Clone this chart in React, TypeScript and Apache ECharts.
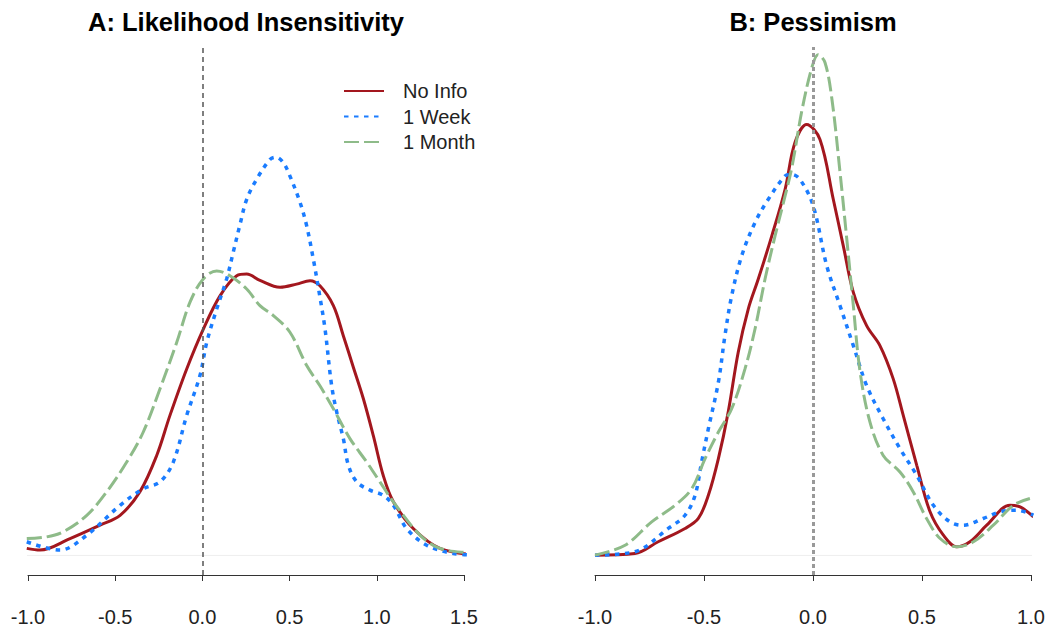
import React, { useEffect, useRef } from "react";
import * as echarts from "echarts";

// ---------- Data (density estimates) ----------
const seriesNames = ["No Info", "1 Week", "1 Month"];

// Panel A: Likelihood Insensitivity
const aNoInfo: [number, number][] = [
  [-1.007, 0.029], [-0.931, 0.022], [-0.759, 0.069], [-0.587, 0.124], [-0.472, 0.164],
  [-0.358, 0.261], [-0.262, 0.409], [-0.186, 0.573], [-0.09, 0.763], [0.006, 0.927],
  [0.101, 1.062], [0.197, 1.144], [0.254, 1.151], [0.33, 1.125], [0.445, 1.097],
  [0.54, 1.11], [0.617, 1.124], [0.674, 1.103], [0.751, 1.022], [0.808, 0.899],
  [0.865, 0.771], [0.923, 0.641], [0.98, 0.49], [1.037, 0.327], [1.095, 0.22],
  [1.209, 0.11], [1.362, 0.029], [1.592, 0.001],
];
const aWeek: [number, number][] = [
  [-1.007, 0.056], [-0.817, 0.022], [-0.663, 0.083], [-0.472, 0.205], [-0.339, 0.273],
  [-0.243, 0.301], [-0.167, 0.382], [-0.09, 0.573], [-0.014, 0.736], [0.025, 0.872],
  [0.082, 1.008], [0.139, 1.131], [0.177, 1.241], [0.216, 1.355], [0.254, 1.457],
  [0.311, 1.539], [0.388, 1.62], [0.422, 1.629], [0.464, 1.607], [0.502, 1.552],
  [0.56, 1.444], [0.598, 1.348], [0.636, 1.212], [0.674, 1.057], [0.703, 0.927],
  [0.741, 0.695], [0.77, 0.587], [0.808, 0.478], [0.837, 0.369], [0.885, 0.301],
  [0.961, 0.267], [1.037, 0.246], [1.095, 0.205], [1.171, 0.11], [1.286, 0.042],
  [1.439, 0.008], [1.592, 0.001],
];
const aMonth: [number, number][] = [
  [-1.007, 0.069], [-0.893, 0.076], [-0.798, 0.097], [-0.663, 0.164], [-0.549, 0.26],
  [-0.434, 0.382], [-0.339, 0.505], [-0.243, 0.682], [-0.147, 0.872], [-0.071, 1.036],
  [0.005, 1.131], [0.082, 1.164], [0.158, 1.144], [0.254, 1.09], [0.33, 1.022],
  [0.407, 0.981], [0.502, 0.913], [0.598, 0.777], [0.674, 0.694], [0.751, 0.6],
  [0.846, 0.478], [0.942, 0.382], [1.018, 0.301], [1.095, 0.219], [1.248, 0.083],
  [1.362, 0.029], [1.553, 0.008], [1.592, 0.004],
];

// Panel B: Pessimism
const bNoInfo: [number, number][] = [
  [-1.0, 0.003], [-0.817, 0.02], [-0.71, 0.14], [-0.587, 0.276], [-0.526, 0.378],
  [-0.48, 0.615], [-0.434, 0.99], [-0.389, 1.466], [-0.343, 2.079], [-0.297, 2.52],
  [-0.251, 2.827], [-0.189, 3.268], [-0.128, 3.745], [-0.083, 4.221], [-0.029, 4.408],
  [0.032, 4.255], [0.093, 3.643], [0.139, 3.166], [0.185, 2.691], [0.246, 2.35],
  [0.307, 2.146], [0.368, 1.806], [0.414, 1.432], [0.476, 0.922], [0.537, 0.446],
  [0.598, 0.207], [0.659, 0.089], [0.72, 0.14], [0.797, 0.309], [0.904, 0.513],
  [0.95, 0.497], [1.011, 0.395],
];
const bWeek: [number, number][] = [
  [-1.0, 0.003], [-0.817, 0.038], [-0.664, 0.276], [-0.587, 0.411], [-0.541, 0.615],
  [-0.511, 0.956], [-0.48, 1.296], [-0.434, 1.772], [-0.404, 2.248], [-0.373, 2.656],
  [-0.327, 3.064], [-0.266, 3.405], [-0.205, 3.643], [-0.128, 3.881], [-0.101, 3.898],
  [-0.06, 3.847], [0.001, 3.574], [0.063, 2.962], [0.124, 2.554], [0.185, 2.146],
  [0.246, 1.738], [0.322, 1.398], [0.399, 1.092], [0.476, 0.819], [0.552, 0.513],
  [0.628, 0.344], [0.689, 0.309], [0.781, 0.378], [0.858, 0.446], [0.934, 0.462],
  [1.011, 0.411],
];
const bMonth: [number, number][] = [
  [-1.0, 0.003], [-0.862, 0.105], [-0.74, 0.344], [-0.633, 0.513], [-0.556, 0.684],
  [-0.495, 0.99], [-0.434, 1.262], [-0.373, 1.5], [-0.312, 1.908], [-0.266, 2.316],
  [-0.22, 2.827], [-0.174, 3.268], [-0.128, 3.677], [-0.096, 3.98], [-0.05, 4.561],
  [-0.004, 5.0], [0.023, 5.122], [0.055, 5.041], [0.087, 4.663], [0.124, 3.918],
  [0.155, 3.235], [0.185, 2.554], [0.216, 1.878], [0.261, 1.367], [0.322, 1.023],
  [0.399, 0.854], [0.46, 0.65], [0.521, 0.378], [0.583, 0.173], [0.659, 0.089],
  [0.736, 0.14], [0.827, 0.309], [0.919, 0.513], [0.995, 0.582],
];

// zero lines spanning each plot region
const aZero: [number, number][] = [[-1.1, 0], [1.7, 0]];
const bZero: [number, number][] = [[-1.08, 0], [1.1, 0]];

const titles = ["A: Likelihood Insensitivity", "B: Pessimism"];

// ---------- Styles ----------
const RED = "#A3171E";
const BLUE = "#1A7CFF";
const GREEN = "#8EBB89";
const FONT = "Liberation Sans, Arial, Helvetica, sans-serif";

function curve(name: string, data: [number, number][], idx: number, color: string, style: any) {
  return {
    type: "line",
    name,
    data,
    xAxisIndex: idx,
    yAxisIndex: idx,
    showSymbol: false,
    symbol: "none",
    symbolSize: 0,
    smooth: 0.35,
    clip: false,
    color,
    itemStyle: { color, opacity: 0 },
    lineStyle: { color, ...style },
    z: 3,
  };
}

export default function App() {
  const ref = useRef<HTMLDivElement>(null);

  useEffect(() => {
    if (!ref.current) return;
    const chart = echarts.init(ref.current, undefined, { renderer: "svg" });

    const redStyle = { width: 3, type: "solid" };
    const blueStyle = { width: 3.5, type: [4.5, 5.5] };
    const greenStyle = { width: 3, type: [15, 5] };

    const xAxisCommon = {
      type: "value",
      interval: 0.5,
      splitLine: { show: false },
      axisLine: { show: true, onZero: false, lineStyle: { color: "#333", width: 1 } },
      axisTick: { show: true, length: 6, lineStyle: { color: "#333", width: 1 } },
      axisLabel: {
        color: "#222",
        fontSize: 20,
        fontFamily: FONT,
        margin: 32,
        formatter: (v: number) => v.toFixed(1),
      },
    };

    const zeroStyle = { color: "#eeeeee", width: 1, type: "solid" };

    const titleStyle = {
      fontSize: 25.5,
      fontWeight: "bold",
      fontFamily: FONT,
      fill: "#000",
      textAlign: "center",
      textVerticalAlign: "middle",
    };

    const option: any = {
      animation: false,
      backgroundColor: "#ffffff",
      grid: [
        { left: 28, width: 436, top: 47, height: 529 },
        { left: 595, width: 436, top: 47, height: 529 },
      ],
      xAxis: [
        { ...xAxisCommon, gridIndex: 0, min: -1, max: 1.5 },
        { ...xAxisCommon, gridIndex: 1, min: -1, max: 1 },
      ],
      yAxis: [
        { type: "value", gridIndex: 0, min: -0.08, max: 2.08, show: false },
        { type: "value", gridIndex: 1, min: -0.2, max: 5.2, show: false },
      ],
      legend: {
        data: seriesNames,
        orient: "vertical",
        left: 343,
        top: 81,
        itemWidth: 40,
        itemHeight: 14,
        itemGap: 5.5,
        padding: 0,
        itemStyle: { opacity: 0 },
        textStyle: { fontSize: 20, fontFamily: FONT, color: "#222", padding: [0, 0, 0, 14] },
      },
      graphic: [
        { type: "text", x: 246, y: 22, style: { ...titleStyle, text: titles[0] } },
        { type: "text", x: 813, y: 22, style: { ...titleStyle, text: titles[1] } },
      ],
      series: [
        {
          type: "line",
          name: "zeroA",
          data: aZero,
          xAxisIndex: 0,
          yAxisIndex: 0,
          symbol: "none",
          clip: false,
          lineStyle: zeroStyle,
          z: 1,
          silent: true,
          markLine: {
            silent: true,
            symbol: "none",
            label: { show: false },
            lineStyle: { color: "#555", width: 1.5, type: [5, 4] },
            data: [{ xAxis: 0 }],
          },
        },
        {
          type: "line",
          name: "zeroB",
          data: bZero,
          xAxisIndex: 1,
          yAxisIndex: 1,
          symbol: "none",
          clip: false,
          lineStyle: zeroStyle,
          z: 1,
          silent: true,
          markLine: {
            silent: true,
            symbol: "none",
            label: { show: false },
            lineStyle: { color: "#999", width: 3, type: [4, 3] },
            data: [{ xAxis: 0 }],
          },
        },
        curve(seriesNames[0], aNoInfo, 0, RED, redStyle),
        curve(seriesNames[1], aWeek, 0, BLUE, blueStyle),
        curve(seriesNames[2], aMonth, 0, GREEN, greenStyle),
        curve(seriesNames[0], bNoInfo, 1, RED, redStyle),
        curve(seriesNames[1], bWeek, 1, BLUE, blueStyle),
        curve(seriesNames[2], bMonth, 1, GREEN, greenStyle),
      ],
    };

    chart.setOption(option);
    return () => chart.dispose();
  }, []);

  return (
    <div
      ref={ref}
      style={{ position: "fixed", left: 0, top: 0, width: 1050, height: 627, background: "#fff" }}
    />
  );
}
